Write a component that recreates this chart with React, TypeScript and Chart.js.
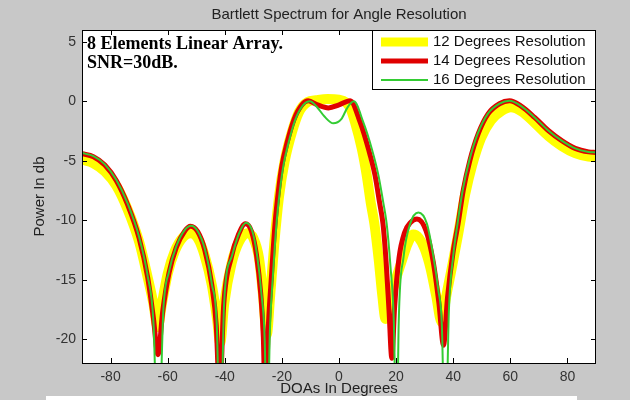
import React, { useEffect, useRef } from "react";
import { Chart, registerables } from "chart.js";

Chart.register(...registerables);

const chartTitle = "Bartlett Spectrum for Angle Resolution";
const xAxisTitle = "DOAs In Degrees";
const yAxisTitle = "Power In db";
const annotationLines = ["8 Elements Linear Array.", "SNR=30dB."];
const seriesLabels = ["12 Degrees Resolution", "14 Degrees Resolution", "16 Degrees Resolution"];
const seriesColors = ["#ffff00", "#e00000", "#33cc33"];
const seriesWidths = [10, 5, 2];
const xTicks = [-80, -60, -40, -20, 0, 20, 40, 60, 80];
const yTicks = [-20, -15, -10, -5, 0, 5];
const xRange = [-90, 90];
const yRange = [-22, 6];

// [DOA in degrees, power in dB]
const res12: [number, number][] = [
  [-90, -4.9], [-86, -5.2], [-82, -5.9], [-78, -7.1], [-74, -9.1], [-70, -11.8], [-67, -14.8], [-65, -17],
  [-63.5, -19], [-62, -17], [-60, -14.5], [-57.5, -12.6], [-54.5, -11.4], [-52, -11.1], [-49.5, -11.5],
  [-47, -13], [-44.5, -15.5], [-42.7, -18.3], [-41.6, -20.3], [-40.2, -17], [-37.6, -13.6], [-35, -11.8],
  [-32.2, -11.1], [-30, -11.5], [-28, -13.2], [-26.6, -16.3], [-25.3, -19.6], [-24.1, -16.3], [-22.6, -11.8],
  [-21, -8], [-19, -5], [-16.5, -2.6], [-14, -0.9], [-11, -0.05], [-8, 0.1], [-4, 0.2], [0, 0.15],
  [2.5, -0.1], [4, -0.6], [5.6, -1.75], [8, -4], [9.7, -6.2], [11.1, -8.5], [12.4, -10.3], [13.9, -13.3],
  [15.2, -16.4], [16.3, -18.3], [17.5, -17], [19.5, -15.3], [22, -13.4], [24, -12], [26, -11.2], [28, -11.5],
  [30, -12.4], [32, -14], [34, -16.3], [36, -18.6], [37.4, -16.6], [39.5, -14], [41.7, -11.2], [44.2, -7.8],
  [46.7, -5.3], [49.7, -3.1], [53.2, -1.6], [57, -0.8], [60.2, -0.5], [64, -0.85], [68.5, -1.8], [73.3, -2.9],
  [78, -3.75], [82.7, -4.35], [87.4, -4.65], [90, -4.7],
];

const res14: [number, number][] = [
  [-90, -4.4], [-86, -4.65], [-82, -5.35], [-78, -6.65], [-74, -8.7], [-70, -11.5], [-67, -14.8], [-65, -18.2],
  [-63.4, -21.3], [-61.7, -17.6], [-59.5, -14.4], [-57, -12.3], [-54, -10.9], [-52, -10.5], [-49.5, -10.95],
  [-47, -12.5], [-44.5, -15.5], [-43, -18.8], [-41.8, -25], [-40.4, -17.2], [-37.7, -13.1], [-35.2, -11.2],
  [-32.8, -10.3], [-30.7, -10.9], [-28.9, -12.9], [-27.4, -16.2], [-26.5, -19.8], [-25.8, -26], [-24.8, -19.2],
  [-23.6, -14.5], [-22.4, -10.3], [-21.2, -7.5], [-20, -5.4], [-18.2, -3.5], [-15.8, -1.55], [-13, -0.3],
  [-10.8, 0.05], [-7.5, -0.3], [-3.7, -0.55], [0, -0.3], [3.9, 0.05], [7.4, -1.75], [10.3, -4], [12.6, -6.2],
  [14.2, -8.5], [15.4, -10.3], [16.5, -13.5], [17.5, -17.5], [18.5, -21.6], [19.5, -17.2], [21, -13.2],
  [23, -11], [25, -10.2], [27.3, -9.9], [30.5, -10.9], [33, -13.5], [35, -17], [36.6, -20.5], [38, -16.5],
  [40, -12.6], [41.7, -10.3], [43.5, -7.5], [45.8, -5], [48.8, -2.7], [52.2, -1.05], [56.2, -0.2], [59.7, 0.05],
  [63.8, -0.4], [68.5, -1.35], [73.3, -2.45], [78, -3.3], [82.7, -3.95], [87.4, -4.25], [90, -4.3],
];

const res16: [number, number][] = [
  [-90, -4.35], [-86, -4.6], [-82, -5.3], [-78, -6.6], [-74, -8.6], [-70, -11.4], [-67, -14.7], [-65, -18.5],
  [-63.3, -30], [-61.5, -17.5], [-59.5, -14.3], [-57, -12.2], [-54, -10.8], [-51.8, -10.45], [-49.5, -10.9],
  [-47, -12.4], [-44.5, -15.4], [-42.8, -18.8], [-41.6, -30], [-40.2, -16.8], [-37.5, -13], [-35, -11.1],
  [-32.6, -10.2], [-30.5, -10.8], [-28.7, -12.9], [-27.1, -16.3], [-26, -20.2], [-25.2, -30], [-24.2, -19.3],
  [-23.1, -14.5], [-21.9, -10.3], [-20.7, -7.5], [-19.4, -5.3], [-17.8, -3.6], [-15.4, -1.6], [-12.5, -0.3],
  [-10.2, 0], [-7.8, -0.45], [-5, -1.3], [-2, -1.85], [0.8, -1.5], [3, -0.5], [5.2, 0], [8.5, -1.75],
  [11.5, -4], [13.8, -6.2], [15.5, -8.5], [16.7, -10.3], [18, -13.8], [19.2, -18.5], [20.2, -30], [20.9, -18.7],
  [22.6, -13.1], [24.9, -10.3], [27.8, -9.35], [30.8, -10.3], [33.1, -13.1], [34.8, -15.9], [36, -18.7],
  [37.2, -30], [38.5, -17.5], [40, -13], [41.5, -10.3], [43.3, -7.5], [45.6, -5], [48.6, -2.7], [52.1, -1.05],
  [56.2, -0.2], [59.7, 0.05], [63.8, -0.4], [68.5, -1.35], [73.3, -2.45], [78, -3.3], [82.7, -3.95],
  [87.4, -4.25], [90, -4.3],
];

const seriesData = [res12, res14, res16];

const SANS = "'Liberation Sans', Arial, sans-serif";
const SERIF = "'Liberation Serif', 'Times New Roman', serif";

const framePlugin = {
  id: "matlabFrame",
  beforeDraw(chart: any) {
    const { ctx, width, height, chartArea: a } = chart;
    ctx.save();
    ctx.fillStyle = "#c8c8c8";
    ctx.fillRect(0, 0, width, height);
    ctx.fillStyle = "#ffffff";
    ctx.fillRect(46, 396, 531, 4);
    ctx.fillRect(a.left, a.top, a.right - a.left, a.bottom - a.top);
    ctx.restore();
  },
  afterDatasetsDraw(chart: any) {
    const { ctx, chartArea: a, scales } = chart;
    ctx.save();
    ctx.strokeStyle = "#000000";
    ctx.lineWidth = 1;
    ctx.beginPath();
    for (const v of xTicks) {
      const x = Math.round(scales.x.getPixelForValue(v)) + 0.5;
      ctx.moveTo(x, a.bottom);
      ctx.lineTo(x, a.bottom - 5);
      ctx.moveTo(x, a.top);
      ctx.lineTo(x, a.top + 5);
    }
    for (const v of yTicks) {
      const y = Math.round(scales.y.getPixelForValue(v)) + 0.5;
      ctx.moveTo(a.left, y);
      ctx.lineTo(a.left + 5, y);
      ctx.moveTo(a.right, y);
      ctx.lineTo(a.right - 5, y);
    }
    ctx.stroke();
    ctx.strokeRect(a.left + 0.5, a.top + 0.5, a.right - a.left - 1, a.bottom - a.top);
    ctx.restore();
  },
  afterDraw(chart: any) {
    const { ctx, chartArea: a } = chart;
    ctx.save();
    // title
    ctx.fillStyle = "#222222";
    ctx.font = `15px ${SANS}`;
    ctx.textAlign = "center";
    ctx.textBaseline = "middle";
    ctx.fillText(chartTitle, (a.left + a.right) / 2, 15);
    // axis titles
    ctx.fillText(xAxisTitle, (a.left + a.right) / 2, 389);
    ctx.save();
    ctx.translate(40, (a.top + a.bottom) / 2);
    ctx.rotate(-Math.PI / 2);
    ctx.fillText(yAxisTitle, 0, 0);
    ctx.restore();
    // annotation
    ctx.fillStyle = "#000000";
    ctx.font = `bold 18px ${SERIF}`;
    ctx.textAlign = "left";
    annotationLines.forEach((t, i) => ctx.fillText(t, a.left + 5, 44 + i * 19));
    // legend
    const lx = 372;
    const ly = a.top;
    const lw = a.right - lx;
    const lh = 59;
    ctx.fillStyle = "#ffffff";
    ctx.fillRect(lx, ly, lw, lh);
    ctx.strokeStyle = "#000000";
    ctx.lineWidth = 1;
    ctx.strokeRect(lx + 0.5, ly + 0.5, lw - 1, lh);
    ctx.font = `15px ${SANS}`;
    ctx.textAlign = "left";
    seriesLabels.forEach((label, i) => {
      const y = ly + 12 + i * 19;
      ctx.strokeStyle = seriesColors[i];
      ctx.lineWidth = Math.min(seriesWidths[i], 9);
      ctx.lineCap = "butt";
      ctx.beginPath();
      ctx.moveTo(381, y);
      ctx.lineTo(428, y);
      ctx.stroke();
      ctx.fillStyle = "#111111";
      ctx.fillText(label, 433, y);
    });
    ctx.restore();
  },
};

export default function App() {
  const canvasRef = useRef<HTMLCanvasElement | null>(null);

  useEffect(() => {
    document.body.style.margin = "0";
    const canvas = canvasRef.current;
    if (!canvas) return;
    const tickFont = { family: SANS, size: 14 };
    const chart = new Chart(canvas, {
      type: "line",
      data: {
        datasets: seriesData.map((d, i) => ({
          label: seriesLabels[i],
          data: d.map(([x, y]) => ({ x, y })),
          borderColor: seriesColors[i],
          backgroundColor: seriesColors[i],
          borderWidth: seriesWidths[i],
          pointRadius: 0,
          fill: false,
          clip: 0,
          order: 3 - i,
          cubicInterpolationMode: "monotone",
          borderJoinStyle: "round",
          borderCapStyle: "round",
        })),
      },
      options: {
        animation: false,
        responsive: false,
        devicePixelRatio: 1,
        layout: { padding: { top: 30, right: 34, left: 0, bottom: 0 } },
        plugins: {
          legend: { display: false },
          tooltip: { enabled: false },
          title: { display: false },
        },
        scales: {
          x: {
            type: "linear",
            min: xRange[0],
            max: xRange[1],
            afterBuildTicks: (s: any) => {
              s.ticks = xTicks.map((v) => ({ value: v }));
            },
            afterFit: (s: any) => {
              s.height = 37;
            },
            grid: { display: false, drawTicks: false },
            border: { display: false },
            ticks: { color: "#333333", font: tickFont, padding: 6, maxRotation: 0, autoSkip: false },
          },
          y: {
            type: "linear",
            min: yRange[0],
            max: yRange[1],
            afterBuildTicks: (s: any) => {
              s.ticks = yTicks.map((v) => ({ value: v }));
            },
            afterFit: (s: any) => {
              s.width = 82;
            },
            grid: { display: false, drawTicks: false },
            border: { display: false },
            ticks: { color: "#333333", font: tickFont, padding: 6, autoSkip: false },
          },
        },
      } as any,
      plugins: [framePlugin],
    });
    return () => chart.destroy();
  }, []);

  return (
    <div style={{ position: "absolute", left: 0, top: 0, width: 630, height: 400 }}>
      <canvas ref={canvasRef} width={630} height={400} style={{ display: "block" }} />
    </div>
  );
}
